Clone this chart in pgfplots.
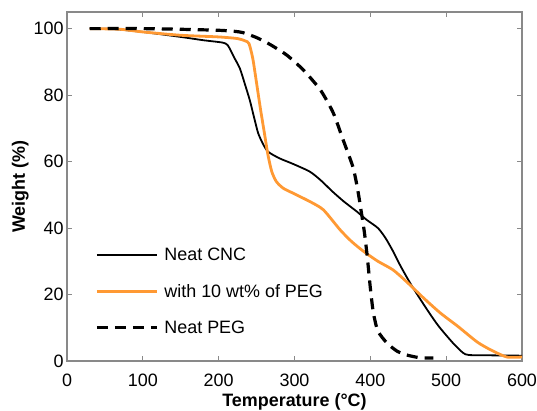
\documentclass[border=0pt]{standalone}
\usepackage{pgfplots}
\pgfplotsset{compat=1.18}
\usepackage{fontspec}
\setmainfont{Liberation Sans}
\definecolor{axgray}{RGB}{137,137,137}
\definecolor{peg10}{RGB}{255,153,51}
\begin{document}
\begin{tikzpicture}
\path[use as bounding box] (-67bp,-50bp) rectangle (470bp,361bp);
\begin{axis}[
  scale only axis, width=455bp, height=349bp,
  at={(0,0)}, anchor=south west,
  xmin=0, xmax=600, ymin=0, ymax=105,
  xtick={0,100,...,600}, ytick={0,20,...,100},
  tick align=inside, major tick length=5bp,
  tick style={axgray, line width=1bp},
  axis line style={axgray, line width=1.5bp},
  tick label style={font=\fontsize{18}{21}\selectfont},
  xticklabel style={yshift=-9bp},
  /pgf/number format/assume math mode=true,
  xlabel={\textbf{Temperature (°C)}},
  ylabel={\textbf{Weight (\%)}},
  label style={font=\fontsize{18}{21}\selectfont},
  xlabel style={at={(axis description cs:0.5,0)}, anchor=center, yshift=-41bp},
  ylabel style={yshift=-2bp},
  legend style={at={(axis cs:33,35.2)}, anchor=north west, draw=none, fill=none,
    font=\fontsize{18}{21}\selectfont, row sep=18bp},
  legend cell align=left,
  legend image code/.code={\draw[#1] (0bp,0bp) -- (60bp,0bp);},
  legend style={nodes={inner xsep=6bp}},
]
\addplot[black, line width=1.8bp, smooth, tension=0.4] coordinates {
(30,100) (60,99.9) (100,99) (150,97.5) (180,96.5) (205,95.8) (212,95) (220,91.5)
(228,88) (235,83) (241,78.5) (247,73) (252,68.6) (258,65.5) (265,63) (280,61)
(298,59.3) (320,57) (334,54.5) (350,51) (365,48) (382,45) (395,42.5) (410,40)
(420,37) (430,33) (440,28.5) (455,22.5) (475,15.4) (490,10.5) (509,5.4) (522,2.5)
(530,1.8) (560,1.7) (600,1.6)};
\addlegendentry{Neat CNC}
\addplot[peg10, line width=2.8bp, smooth, tension=0.4] coordinates {
(30,100) (70,99.8) (100,99) (150,98) (200,97.5) (225,97) (235,96.3) (240,95.5)
(245,91) (250,83.6) (255,76) (260,69) (265,62) (270,57) (276,54) (285,52)
(298,50.5) (320,48) (338,45.5) (360,39.5) (375,36) (391,33) (410,30) (430,27.4)
(448,23.8) (470,19) (492,14.5) (515,10.5) (541,5.7) (560,3.2) (580,1.2) (600,1.2)};
\addlegendentry{with 10 wt\% of PEG}
\addplot[black, line width=3.2bp, dash pattern=on 11bp off 7bp, smooth, tension=0.4] coordinates {
(30,100) (100,100) (150,99.8) (200,99.5) (220,99.2) (232,98.8) (250,97.3) (268,95.2)
(290,92) (311,87.7) (334,81.6) (351,74.7) (364,66.6) (377,58.4) (383,52) (387,46.4)
(392,39) (396,31.3) (400,22) (404,14.5) (410,9) (422,5.4) (435,3) (448,1.8)
(465,1.0) (483,0.9)};
\addlegendentry{Neat PEG}
\end{axis}
\end{tikzpicture}
\end{document}
